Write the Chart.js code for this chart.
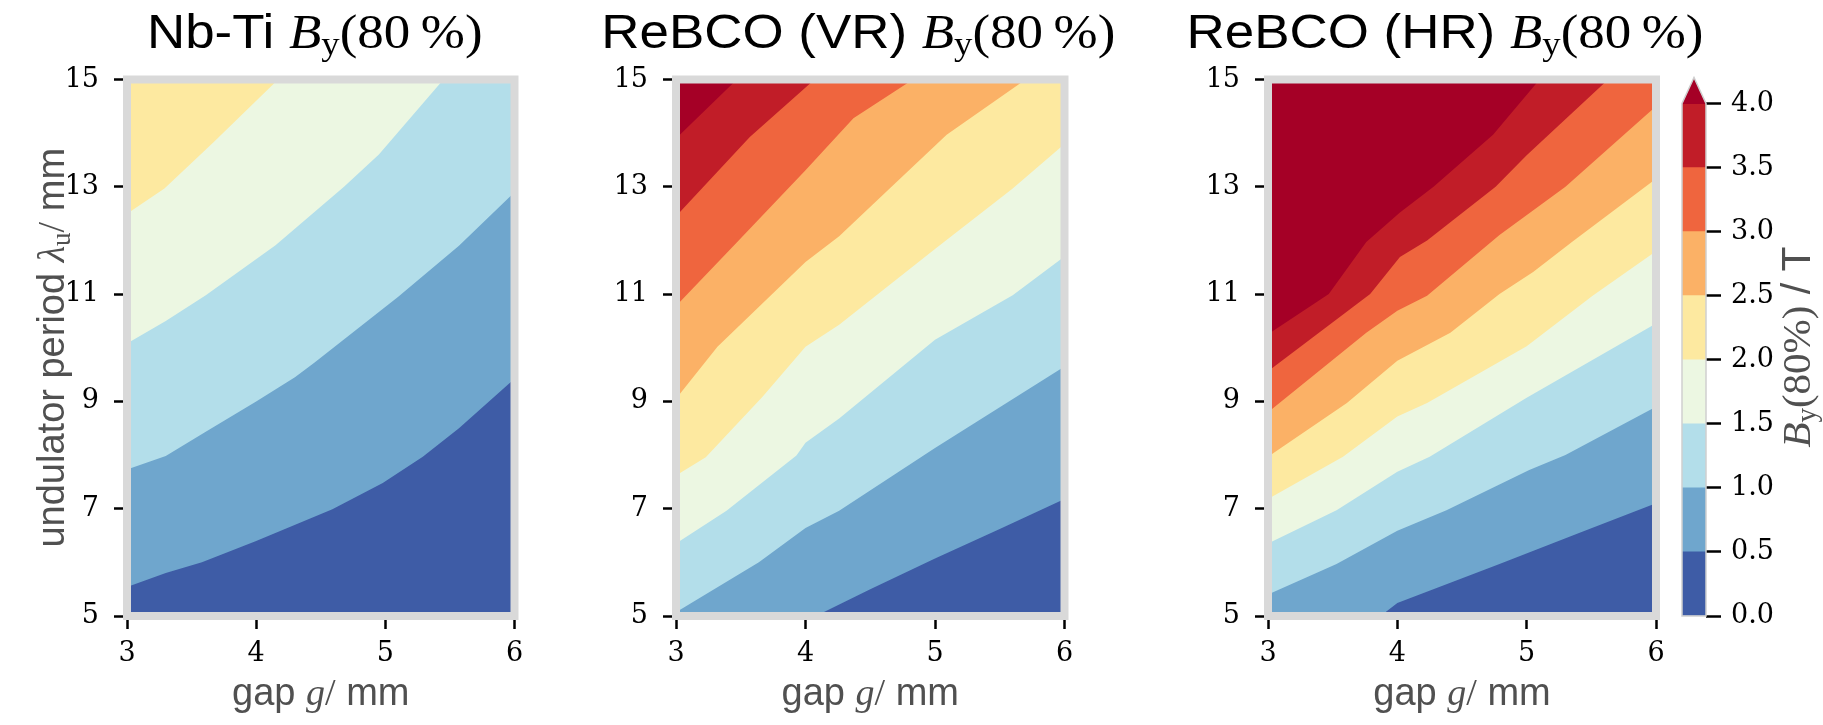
<!DOCTYPE html>
<html>
<head>
<meta charset="utf-8">
<script src="https://cdn.jsdelivr.net/npm/chart.js@4.4.0/dist/chart.umd.min.js"></script>
<style>
html, body { margin: 0; padding: 0; background: #fff; }
#wrap { position: relative; width: 1823px; height: 725px; overflow: hidden; }
.box { position: absolute; top: 0; height: 725px; }
</style>
</head>
<body>
<div id="wrap">
  <div class="box" style="left:0;width:560px"><canvas id="nbti"></canvas></div>
  <div class="box" style="left:560px;width:560px"><canvas id="rebcoVR"></canvas></div>
  <div class="box" style="left:1120px;width:703px"><canvas id="rebcoHR"></canvas></div>
  <div class="box" style="left:1660px;width:163px"><canvas id="cbar"></canvas></div>
</div>
<script>
// axes
const gapRange = [3, 6];
const periodRange = [5, 15];
const gapTicks = [3, 4, 5, 6];
const periodTicks = [5, 7, 9, 11, 13, 15];

// contour levels (T) and filled colours, RdYlBu_r
const levels = [0, 0.5, 1.0, 1.5, 2.0, 2.5, 3.0, 3.5, 4.0];
const bandColors = ['#3e5ca6', '#6fa6cd', '#b3deea', '#ecf7e2', '#fde9a0', '#fbb166', '#ef653e', '#c11d28', '#a50026'];
const cbTicks = [0, 0.5, 1.0, 1.5, 2.0, 2.5, 3.0, 3.5, 4.0];

// level lines as [gap, period]
const nbtiLevels = [0.5, 1.0, 1.5, 2.0];
const nbtiContours = [
  [[3, 5.54], [3.3, 5.8], [3.58, 6.0], [4.0, 6.4], [4.59, 6.99], [4.98, 7.48], [5.29, 7.97], [5.57, 8.5], [6, 9.42]],
  [[3, 7.73], [3.3, 7.98], [3.6, 8.42], [4.0, 9.0], [4.3, 9.45], [4.45, 9.72], [5.1, 10.95], [5.57, 11.9], [6, 12.9]],
  [[3, 10.08], [3.3, 10.5], [3.61, 10.98], [4.15, 11.91], [4.68, 13.0], [4.95, 13.6], [5.2, 14.3], [5.45, 15], [6, 15]],
  [[3, 12.5], [3.29, 12.97], [3.67, 13.83], [4.17, 15], [6, 15]]
];

const vrLevels = [0.5, 1.0, 1.5, 2.0, 2.5, 3.0, 3.5, 4.0];
const vrContours = [
  [[3, 5], [4.08, 5], [4.5, 5.5], [5, 6.07], [5.5, 6.62], [6, 7.18]],
  [[3, 5.07], [3.64, 6.0], [4.0, 6.64], [4.26, 6.96], [5.0, 8.13], [6, 9.65]],
  [[3, 6.35], [3.39, 6.96], [3.93, 7.99], [4.0, 8.23], [4.26, 8.68], [5.0, 10.15], [5.6, 10.98], [6, 11.7]],
  [[3, 7.62], [3.23, 7.96], [3.67, 9.09], [4.0, 10.02], [4.26, 10.43], [5.0, 11.84], [5.6, 12.97], [6, 13.8]],
  [[3, 9.05], [3.32, 10.02], [4.0, 11.6], [4.26, 12.08], [4.65, 12.97], [5.09, 13.97], [5.7, 15], [6, 15]],
  [[3, 10.78], [3.46, 11.94], [4.0, 13.31], [4.37, 14.28], [4.83, 15], [6, 15]],
  [[3, 12.45], [3.57, 13.93], [4.07, 15], [6, 15]],
  [[3, 13.9], [3.47, 15], [6, 15]]
];

const hrLevels = [0.5, 1.0, 1.5, 2.0, 2.5, 3.0, 3.5, 4.0];
const hrContours = [
  [[3, 5], [3.87, 5], [4.0, 5.24], [4.79, 5.97], [5.41, 6.55], [6, 7.1]],
  [[3, 5.4], [3.53, 5.97], [4.0, 6.59], [4.38, 6.97], [5.02, 7.72], [5.3, 8.0], [6, 8.9]],
  [[3, 6.35], [3.53, 6.97], [4.0, 7.69], [4.25, 7.97], [5.0, 9.07], [6, 10.45]],
  [[3, 7.18], [3.58, 7.97], [4.0, 8.72], [4.23, 8.97], [5.0, 10.03], [5.51, 10.97], [6, 11.8]],
  [[3, 7.97], [3.61, 8.97], [4.0, 9.76], [4.41, 10.28], [4.79, 11.0], [5.05, 11.41], [5.35, 11.97], [6, 13.15]],
  [[3, 8.8], [3.76, 10.28], [4.0, 10.69], [4.23, 10.97], [4.79, 12.1], [5.3, 13.0], [6, 14.5]],
  [[3, 9.56], [3.79, 11.0], [4.02, 11.69], [4.23, 12.0], [4.76, 13.0], [5.0, 13.59], [5.63, 15], [6, 15]],
  [[3, 10.25], [3.47, 11.0], [3.76, 11.97], [4.02, 12.52], [4.28, 13.0], [4.74, 13.97], [5.1, 15], [6, 15]]
];

const SANS = '"Liberation Sans", Arial, sans-serif';
const SERIF = '"Liberation Serif", "Times New Roman", serif';
const TICK_SERIF = '"DejaVu Serif", "Liberation Serif", serif';
const LABEL_GRAY = '#505050';

// draw a line of text made of several font runs, centred on (x, y)
function drawRuns(ctx, runs, x, y, opts = {}) {
    ctx.save();
    ctx.translate(x, y);
    if (opts.rotate) ctx.rotate(-Math.PI / 2);
    if (opts.sx) ctx.scale(opts.sx, 1);
    let total = 0;
    runs.forEach(r => { ctx.font = r.f; r.w = ctx.measureText(r.t).width; total += r.w; });
    let cx = -total / 2;
    ctx.fillStyle = opts.color || '#000';
    ctx.textAlign = 'left';
    ctx.textBaseline = 'alphabetic';
    runs.forEach(r => {
        ctx.font = r.f;
        ctx.fillText(r.t, cx, r.dy || 0);
        cx += r.w;
    });
    ctx.restore();
}

function titleRuns(name) {
    return [
        { t: name + ' ', f: `49px ${SANS}` },
        { t: 'B', f: `italic 49px ${SERIF}` },
        { t: 'y', f: `34px ${SERIF}`, dy: 7 },
        { t: '(80\u2009%)', f: `49px ${SERIF}` }
    ];
}

const gapLabel = [
    { t: 'gap ', f: `38px ${SANS}` },
    { t: 'g', f: `italic 38px ${SERIF}` },
    { t: '/', f: `38px ${SERIF}` },
    { t: ' mm', f: `38px ${SANS}` }
];
const periodLabel = [
    { t: 'undulator period ', f: `38px ${SANS}` },
    { t: '\u03bb', f: `italic 38px ${SERIF}` },
    { t: 'u', f: `27px ${SERIF}`, dy: 6 },
    { t: '/', f: `38px ${SERIF}` },
    { t: ' mm', f: `38px ${SANS}` }
];
const cbLabel = [
    { t: 'B', f: `italic 41px ${SERIF}` },
    { t: 'y', f: `29px ${SERIF}`, dy: 6 },
    { t: '(80%)', f: `41px ${SERIF}` },
    { t: ' / T', f: `41px ${SANS}` }
];

function contourSets(lvls, lines) {
    const sets = [{
        data: [{ x: gapRange[0], y: periodRange[0] }, { x: gapRange[1], y: periodRange[0] }],
        color: bandColors[0]
    }];
    lines.forEach((pts, i) => {
        sets.push({ data: pts.map(p => ({ x: p[0], y: p[1] })), color: bandColors[levels.indexOf(lvls[i])] });
    });
    return sets.map((s, i) => ({
        data: s.data,
        backgroundColor: s.color,
        borderColor: 'rgba(0,0,0,0)',
        borderWidth: 0,
        pointRadius: 0,
        tension: 0,
        fill: 'end',
        order: sets.length - i
    }));
}

const framePlugin = {
    id: 'frame',
    afterDatasetsDraw(chart) {
        const a = chart.chartArea;
        const ctx = chart.ctx;
        ctx.save();
        ctx.strokeStyle = '#d9d9d9';
        ctx.lineWidth = 8;
        ctx.strokeRect(a.left, a.top, a.right - a.left, a.bottom - a.top);
        ctx.restore();
    }
};

const tickFont = { family: TICK_SERIF, size: 27 };

function draw_panel(id, lvls, lines, yWidth, rightPad, title, titleShift, withYLabel) {
    const canvas = document.getElementById(id);
    const textPlugin = {
        id: 'texts',
        afterDraw(chart) {
            const a = chart.chartArea;
            const mid = (a.left + a.right) / 2;
            drawRuns(chart.ctx, titleRuns(title), mid + titleShift, 48, { sx: 1.08 });
            drawRuns(chart.ctx, gapLabel, mid, 705, { color: LABEL_GRAY });
            if (withYLabel) {
                drawRuns(chart.ctx, periodLabel, 64, (a.top + a.bottom) / 2, { rotate: true, color: LABEL_GRAY });
            }
        }
    };
    const tickGrid = { display: true, drawOnChartArea: false, drawTicks: true, tickLength: 13, tickWidth: 2.5, tickColor: '#000' };
    new Chart(canvas.getContext('2d'), {
        type: 'line',
        data: { datasets: contourSets(lvls, lines) },
        options: {
            responsive: true,
            maintainAspectRatio: false,
            animation: false,
            events: [],
            layout: { padding: { top: 79.5, left: 0, right: rightPad, bottom: 0 } },
            plugins: { legend: { display: false }, tooltip: { enabled: false } },
            scales: {
                x: {
                    type: 'linear',
                    min: gapRange[0],
                    max: gapRange[1],
                    afterBuildTicks: s => { s.ticks = gapTicks.map(v => ({ value: v })); },
                    afterFit: s => { s.height = 109; },
                    ticks: { font: tickFont, color: '#000', padding: 9, maxRotation: 0 },
                    grid: tickGrid,
                    border: { display: false }
                },
                y: {
                    type: 'linear',
                    min: periodRange[0],
                    max: periodRange[1],
                    afterBuildTicks: s => { s.ticks = periodTicks.map(v => ({ value: v })); },
                    afterFit: s => { s.width = yWidth; },
                    ticks: { font: tickFont, color: '#000', padding: 15 },
                    grid: tickGrid,
                    border: { display: false }
                }
            }
        },
        plugins: [framePlugin, textPlugin]
    });
}

function draw_colorbar() {
    const canvas = document.getElementById('cbar');
    const bands = bandColors.slice(0, levels.length - 1).map((c, i) => ({
        data: [[levels[i], levels[i + 1]]],
        backgroundColor: c,
        borderWidth: 0,
        grouped: false,
        barPercentage: 1,
        categoryPercentage: 1
    }));
    const extendPlugin = {
        id: 'extend',
        afterDatasetsDraw(chart) {
            const a = chart.chartArea;
            const ctx = chart.ctx;
            const base = chart.scales.y.getPixelForValue(levels[levels.length - 1]);
            const tip = base - 26;
            ctx.save();
            ctx.fillStyle = bandColors[bandColors.length - 1];
            ctx.beginPath();
            ctx.moveTo(a.left, base + 0.5);
            ctx.lineTo((a.left + a.right) / 2, tip);
            ctx.lineTo(a.right, base + 0.5);
            ctx.closePath();
            ctx.fill();
            ctx.strokeStyle = '#cfcfcf';
            ctx.lineWidth = 1.5;
            ctx.beginPath();
            ctx.moveTo(a.left, a.bottom);
            ctx.lineTo(a.left, base);
            ctx.lineTo((a.left + a.right) / 2, tip);
            ctx.lineTo(a.right, base);
            ctx.lineTo(a.right, a.bottom);
            ctx.closePath();
            ctx.stroke();
            ctx.restore();
        },
        afterDraw(chart) {
            drawRuns(chart.ctx, cbLabel, 150, 347, { rotate: true, color: LABEL_GRAY });
        }
    };
    new Chart(canvas.getContext('2d'), {
        type: 'bar',
        data: { labels: [''], datasets: bands },
        options: {
            responsive: true,
            maintainAspectRatio: false,
            animation: false,
            events: [],
            layout: { padding: { top: 103.5, left: 22, right: 0, bottom: 109 } },
            plugins: { legend: { display: false }, tooltip: { enabled: false } },
            scales: {
                x: { display: false },
                y: {
                    position: 'right',
                    min: 0,
                    max: 4,
                    afterBuildTicks: s => { s.ticks = cbTicks.map(v => ({ value: v })); },
                    afterFit: s => { s.width = 117; },
                    ticks: { font: tickFont, color: '#000', padding: 10, callback: v => Number(v).toFixed(1) },
                    grid: { display: true, drawOnChartArea: false, drawTicks: true, tickLength: 15, tickWidth: 2.5, tickColor: '#000' },
                    border: { display: false }
                }
            }
        },
        plugins: [extendPlugin]
    });
}

draw_panel('nbti', nbtiLevels, nbtiContours, 127, 45.5, 'Nb-Ti', -6, true);
draw_panel('rebcoVR', vrLevels, vrContours, 116, 55.5, 'ReBCO (VR)', -12, false);
draw_panel('rebcoHR', hrLevels, hrContours, 148, 167, 'ReBCO (HR)', -17, false);
draw_colorbar();
</script>
</body>
</html>
